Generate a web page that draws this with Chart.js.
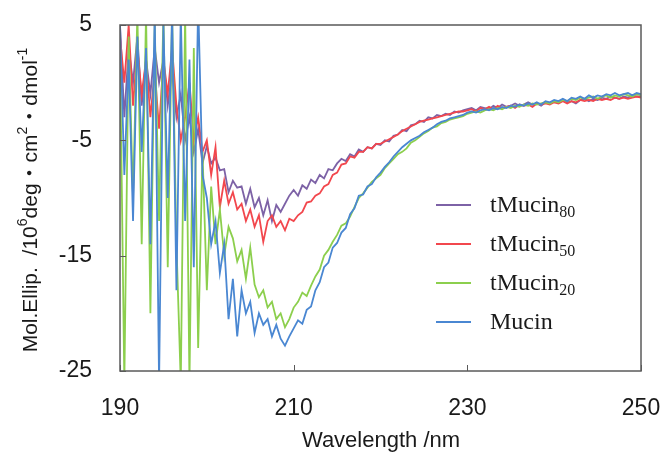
<!DOCTYPE html>
<html>
<head>
<meta charset="utf-8">
<script src="https://cdn.jsdelivr.net/npm/chart.js@4.4.0/dist/chart.umd.min.js"></script>
<style>
  body { margin: 0; background: #fff; }
  #wrap { width: 669px; height: 467px; }
</style>
</head>
<body>
<div id="wrap"><canvas id="cd-chart" width="669" height="467"></canvas></div>
<script>
'use strict';

// wavelength, nm (0.5 nm steps)
let wavelengths = [
  190, 190.5, 191, 191.5, 192, 192.5, 193, 193.5, 194, 194.5,
  195, 195.5, 196, 196.5, 197, 197.5, 198, 198.5, 199, 199.5,
  200, 200.5, 201, 201.5, 202, 202.5, 203, 203.5, 204, 204.5,
  205, 205.5, 206, 206.5, 207, 207.5, 208, 208.5, 209, 209.5,
  210, 210.5, 211, 211.5, 212, 212.5, 213, 213.5, 214, 214.5,
  215, 215.5, 216, 216.5, 217, 217.5, 218, 218.5, 219, 219.5,
  220, 220.5, 221, 221.5, 222, 222.5, 223, 223.5, 224, 224.5,
  225, 225.5, 226, 226.5, 227, 227.5, 228, 228.5, 229, 229.5,
  230, 230.5, 231, 231.5, 232, 232.5, 233, 233.5, 234, 234.5,
  235, 235.5, 236, 236.5, 237, 237.5, 238, 238.5, 239, 239.5,
  240, 240.5, 241, 241.5, 242, 242.5, 243, 243.5, 244, 244.5,
  245, 245.5, 246, 246.5, 247, 247.5, 248, 248.5, 249, 249.5,
  250
];

// Mol. ellip. values
let tMucin80 = [
  5, -3, 3, 0, 4, -2, 2, -1, 3, 0, 2, -2, 1, -3, -1, -5, -3, -6, -4, -7,
  -5.5, -7, -6.5, -7.6, -7.5, -9.5, -8.5, -9.1, -9, -10.5, -9.2, -10.8, -10, -11.5, -10.2, -12, -10.6, -11.2, -10.5, -9.8,
  -9.3, -9.8, -8.9, -9.2, -8.4, -8.7, -8.0, -8.3, -7.5, -7.6, -7.0, -6.6, -6.8, -6.2, -6.4, -5.8, -6.0, -5.6, -5.7, -5.3,
  -5.4, -5.0, -5.1, -4.6, -4.5, -4.1, -4.2, -3.7, -3.6, -3.3, -3.4, -3.0, -3.1, -2.8, -2.9, -2.7, -2.8, -2.5, -2.6, -2.4,
  -2.3, -2.2, -2.4, -2.1, -2.2, -2.3, -2.0, -2.2, -1.9, -2.1, -2.0, -1.8, -2.0, -1.9, -1.7, -1.9, -1.8, -2.0, -1.7, -1.8,
  -1.6, -1.7, -1.5, -1.7, -1.6, -1.8, -1.5, -1.4, -1.6, -1.4, -1.5, -1.3, -1.4, -1.2, -1.3, -1.4, -1.2, -1.3, -1.1, -1.2,
  -1.2
];
let tMucin50 = [
  4, 0, 5, -2, 3, -1, 2, -3, 1, -4, 2, -1, 3, -2, -5, -3, 0, -5, -3, -6,
  -5, -8, -5.6, -10.8, -8.5, -10.5, -9.5, -11, -10.5, -12, -11, -12.5, -11.5, -13.8, -12, -11.5, -12.5, -12, -12.8, -11.8,
  -12, -11.5, -11.2, -10.4, -10.3, -9.8, -9.6, -9.0, -8.8, -8.0, -7.8, -7.1, -7.0, -6.4, -6.5, -6.0, -6.0, -5.6, -5.7, -5.3,
  -5.3, -5.1, -4.9, -4.7, -4.5, -4.2, -4.0, -3.8, -3.6, -3.4, -3.3, -3.2, -3.1, -3.0, -2.9, -2.8, -2.7, -2.6, -2.5, -2.5,
  -2.4, -2.3, -2.5, -2.2, -2.3, -2.1, -2.3, -2.0, -2.2, -2.1, -2.0, -2.2, -1.9, -2.0, -1.9, -2.1, -1.8, -1.9, -1.8, -1.9,
  -1.7, -1.8, -1.6, -1.8, -1.6, -1.7, -1.5, -1.6, -1.5, -1.6, -1.4, -1.5, -1.4, -1.5, -1.3, -1.4, -1.3, -1.4, -1.3, -1.2,
  -1.3
];
let tMucin20 = [
  3, -26, 4, -10, 6, -14, 6, -20, 5, -12, 6, -16, 6, -14, -26, 6, -26, 3, -23, -6,
  -18, -9, -14, -11, -15, -12.5, -13.5, -15.5, -14.5, -17, -14.3, -17.5, -18.6, -18, -19.5, -19, -20.5, -20, -21.2, -20.5,
  -19.5, -19, -18.2, -18.5, -17.6, -16.8, -16.2, -15, -14.5, -13.8, -13.2, -12.4, -12.2, -11.6, -10.8, -10, -9.6, -9.1, -8.6, -8.3,
  -8.0, -7.4, -7.0, -6.6, -6.2, -6.0, -5.7, -5.2, -5.0, -4.7, -4.4, -4.2, -3.9, -3.8, -3.5, -3.4, -3.2, -3.1, -3.0, -2.9,
  -2.7, -2.6, -2.5, -2.6, -2.4, -2.3, -2.4, -2.2, -2.3, -2.1, -2.2, -2.0, -2.1, -1.9, -2.0, -1.8, -1.9, -1.8, -1.7, -1.8,
  -1.6, -1.7, -1.5, -1.6, -1.4, -1.5, -1.3, -1.4, -1.3, -1.2, -1.4, -1.2, -1.1, -1.3, -1.1, -1.2, -1.0, -1.1, -1.2, -1.0,
  -1.1
];
let mucin = [
  5, -8, 2, -12, 4, -6, 3, -14, 6, -26, 5, -10, 6, -18, 6, -12, 2, -16, 7, -8,
  -10, -14, -12, -16.5, -14, -20.5, -17, -22, -18, -20, -19, -21.7, -20, -21, -20.5, -22, -21, -22.2, -22.8, -22,
  -21.3, -20.6, -20.9, -19.7, -19.4, -18, -17.3, -16, -15.6, -14.3, -13.9, -13, -12.6, -11.4, -10.9, -9.8, -9.7, -9.0, -8.8, -8.2,
  -7.8, -7.3, -6.9, -6.4, -6.0, -5.6, -5.3, -5.0, -4.8, -4.6, -4.3, -4.1, -3.9, -3.6, -3.4, -3.3, -3.1, -3.0, -2.9, -2.8,
  -2.6, -2.5, -2.6, -2.4, -2.3, -2.4, -2.2, -2.3, -2.1, -2.2, -2.0, -2.1, -1.9, -2.0, -1.8, -1.9, -1.7, -1.9, -1.6, -1.7,
  -1.5, -1.6, -1.4, -1.6, -1.3, -1.4, -1.2, -1.4, -1.1, -1.3, -1.1, -1.2, -1.0, -1.1, -0.9, -1.1, -1.0, -0.9, -1.1, -0.9,
  -1.0
];

// legend names, subscripts and colours
let seriesNames = ['tMucin', 'tMucin', 'tMucin', 'Mucin'];
let seriesSubs = ['80', '50', '20', ''];
let seriesColors = ['#7d62a6', '#f2474d', '#8ccf4d', '#4a87d2'];
let seriesValues = [tMucin80, tMucin50, tMucin20, mucin];

// axis ticks
let xTicks = [190, 210, 230, 250];
let yTicks = [-25, -15, -5, 5];

let ctx = document.getElementById('cd-chart').getContext('2d');

function toPoints(values) {
  let pts = [];
  for (let i = 0; i < wavelengths.length; i++) {
    pts.push({ x: wavelengths[i], y: values[i] });
  }
  return pts;
}

let datasets = [];
for (let i = 0; i < seriesValues.length; i++) {
  datasets.push({
    label: seriesNames[i] + seriesSubs[i],
    data: toPoints(seriesValues[i]),
    borderColor: seriesColors[i],
    backgroundColor: seriesColors[i],
    borderWidth: 1.8,
    pointRadius: 0,
    tension: 0,
    order: 4 - i
  });
}

// draw text pieces with super/subscripts
function drawRich(c, parts, x, y, bigFont, smallFont, shift) {
  let total = 0;
  for (let p of parts) {
    c.font = p.s ? smallFont : bigFont;
    p.w = c.measureText(p.t).width;
    total += p.w;
  }
  let cx = x;
  for (let p of parts) {
    c.font = p.s ? smallFont : bigFont;
    c.fillText(p.t, cx, p.s ? y + p.s * shift : y);
    cx += p.w;
  }
  return total;
}

let framePlugin = {
  id: 'framePlugin',
  afterDatasetsDraw(chart) {
    let c = chart.ctx;
    let a = chart.chartArea;
    let sx = chart.scales.x;
    let sy = chart.scales.y;
    c.save();
    c.strokeStyle = '#5a5a5a';
    c.lineWidth = 1.5;
    c.strokeRect(a.left, a.top, a.right - a.left, a.bottom - a.top);
    c.lineWidth = 1;
    c.beginPath();
    xTicks.forEach(v => {
      let px = Math.round(sx.getPixelForValue(v)) + 0.5;
      c.moveTo(px, a.bottom);
      c.lineTo(px, a.bottom - 6);
    });
    yTicks.forEach(v => {
      let py = Math.round(sy.getPixelForValue(v)) + 0.5;
      c.moveTo(a.left, py);
      c.lineTo(a.left + 6, py);
    });
    c.stroke();
    c.restore();
  },
  afterDraw(chart) {
    let c = chart.ctx;
    c.save();
    c.fillStyle = '#1a1a1a';
    c.textBaseline = 'middle';

    // x title
    c.font = '22px "Liberation Sans", Arial, sans-serif';
    c.textAlign = 'center';
    c.fillText('Wavelength /nm', 381, 441);

    // y title (rotated)
    c.textAlign = 'left';
    c.translate(31, 200);
    c.rotate(-Math.PI / 2);
    let yParts = [
      { t: 'Mol.Ellip.  /10' }, { t: '6', s: -1 }, { t: 'deg' }, { t: '\u30fb' },
      { t: 'cm' }, { t: '2', s: -1 }, { t: '\u30fb' }, { t: 'dmol' }, { t: '-1', s: -1 }
    ];
    let big = '21px "Liberation Sans", Arial, "Noto Sans CJK JP", sans-serif';
    let small = '14px "Liberation Sans", Arial, sans-serif';
    let w = 0;
    for (let p of yParts) { c.font = p.s ? small : big; w += c.measureText(p.t).width; }
    drawRich(c, yParts, -w / 2, 0, big, small, 8);
    c.restore();

    // legend
    c.save();
    c.textBaseline = 'middle';
    c.textAlign = 'left';
    let rowY = [205, 244, 283, 322];
    for (let i = 0; i < seriesNames.length; i++) {
      c.strokeStyle = seriesColors[i];
      c.lineWidth = 2;
      c.beginPath();
      c.moveTo(436, rowY[i]);
      c.lineTo(471, rowY[i]);
      c.stroke();
      c.fillStyle = '#1a1a1a';
      let parts = [{ t: seriesNames[i] }];
      if (seriesSubs[i]) parts.push({ t: seriesSubs[i], s: 1 });
      drawRich(c, parts, 490, rowY[i] + 1, '24px "Liberation Serif", "Times New Roman", serif',
        '16px "Liberation Serif", "Times New Roman", serif', 7);
    }
    c.restore();
  }
};

let chartObject = {
  type: 'line',
  data: { datasets: datasets },
  options: {
    responsive: false,
    animation: false,
    events: [],
    layout: { padding: { top: 25, right: 28, left: 0, bottom: 0 } },
    plugins: { legend: { display: false }, tooltip: { enabled: false } },
    scales: {
      x: {
        type: 'linear',
        min: 190,
        max: 250,
        grid: { display: false, drawTicks: false },
        border: { display: false },
        afterBuildTicks: axis => { axis.ticks = xTicks.map(v => ({ value: v })); },
        afterFit: axis => {
          axis.height = 96;
          axis.paddingLeft = 0;
          axis.paddingRight = 0;
        },
        ticks: {
          padding: 24,
          maxRotation: 0,
          autoSkip: false,
          color: '#1a1a1a',
          font: { size: 23, family: '"Liberation Sans", Arial, sans-serif' }
        }
      },
      y: {
        min: -25,
        max: 5,
        grid: { display: false, drawTicks: false },
        border: { display: false },
        afterBuildTicks: axis => { axis.ticks = yTicks.map(v => ({ value: v })); },
        afterFit: axis => {
          axis.width = 120;
          axis.paddingTop = 0;
          axis.paddingBottom = 0;
        },
        ticks: {
          padding: 28,
          autoSkip: false,
          color: '#1a1a1a',
          font: { size: 23, family: '"Liberation Sans", Arial, sans-serif' }
        }
      }
    }
  },
  plugins: [framePlugin]
};

const cdChart = new Chart(ctx, chartObject);
</script>
</body>
</html>
